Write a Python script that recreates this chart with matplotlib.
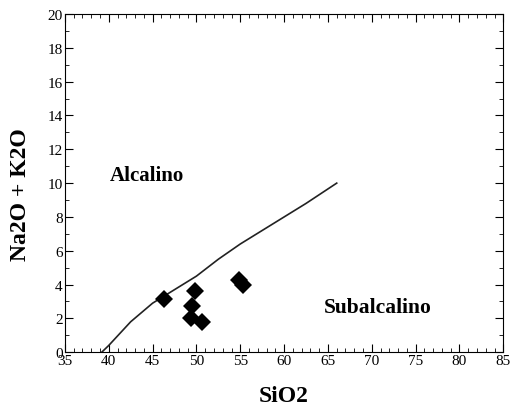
import numpy as np
import matplotlib.pyplot as plt
from matplotlib.ticker import MultipleLocator

# Irvine & Baragar alkaline / subalkaline dividing line
line_sio2 = [39.2, 40.0, 42.5, 45.0, 47.5, 50.0, 52.5, 55.0, 57.5, 60.0, 62.5, 66.0]
line_alk = [0.0, 0.4, 1.8, 2.9, 3.7, 4.5, 5.5, 6.4, 7.2, 8.0, 8.8, 10.0]

# samples
sio2 = [46.3, 49.8, 49.5, 49.4, 50.6, 54.9, 55.3]
alk = [3.15, 3.6, 2.75, 2.05, 1.8, 4.3, 3.95]

plt.rcParams['font.family'] = ['Liberation Serif', 'DejaVu Serif']

fig = plt.figure(figsize=(5.11, 4.06), dpi=100)
ax = fig.add_axes([0.127, 0.130, 0.858, 0.833])

ax.plot(line_sio2, line_alk, color='#222222', lw=1.2)
ax.plot(sio2, alk, 'D', color='black', ms=9, markeredgewidth=0)

ax.text(44.4, 10.5, 'Alcalino', fontsize=15, fontweight='bold', ha='center', va='center')
ax.text(70.7, 2.65, 'Subalcalino', fontsize=15.5, fontweight='bold', ha='center', va='center')

ax.set_xlim(35, 85)
ax.set_ylim(0, 20)
ax.xaxis.set_major_locator(MultipleLocator(5))
ax.xaxis.set_minor_locator(MultipleLocator(1))
ax.yaxis.set_major_locator(MultipleLocator(2))
ax.yaxis.set_minor_locator(MultipleLocator(1))
ax.tick_params(which='both', direction='in', top=True, right=True, labelsize=11, pad=1.5)
ax.tick_params(which='major', length=6)
ax.tick_params(which='minor', length=3)

ax.set_xlabel('SiO2', fontsize=17, fontweight='bold', labelpad=13)
ax.set_ylabel('Na2O + K2O', fontsize=17, fontweight='bold')
ax.yaxis.set_label_coords(-0.078, 0.47)

fig.savefig('out.png', dpi=100)
